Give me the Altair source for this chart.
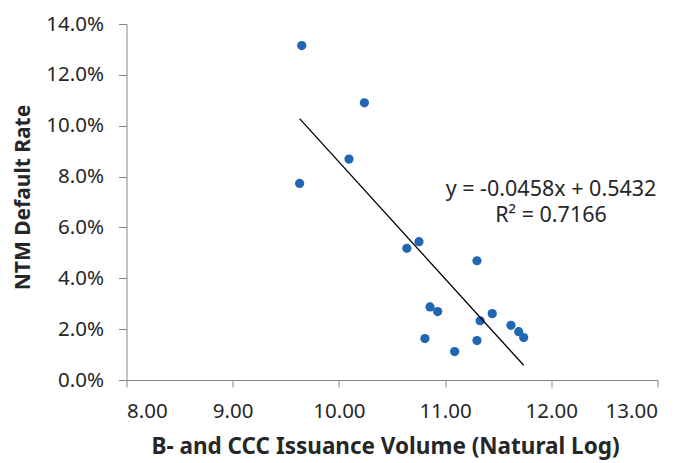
import altair as alt
import pandas as pd

issuance_ln = [9.65, 10.24, 10.095, 9.63, 10.64, 10.754, 11.30, 10.858, 10.93,
               11.444, 11.33, 11.62, 11.693, 11.74, 10.81, 11.30, 11.09]
default_rate = [0.1315, 0.1090, 0.0869, 0.0773, 0.0518, 0.0544, 0.0469, 0.02875, 0.0269,
                0.0261, 0.0233, 0.0215, 0.0190, 0.0167, 0.0163, 0.0155, 0.0112]

x_ticks = [8, 9, 10, 11, 12, 13]
y_ticks = [0, 0.02, 0.04, 0.06, 0.08, 0.10, 0.12, 0.14]
eq_lines = ["y = -0.0458x + 0.5432", "R² = 0.7166"]

df = pd.DataFrame({"x": issuance_ln, "y": default_rate})

FONT = "Noto Sans"
AXIS_GREY = "#868686"
TXT = "#262626"

xscale = alt.Scale(domain=[8, 13], nice=False, zero=False)
yscale = alt.Scale(domain=[0, 0.14], nice=False)

xenc = alt.X("x:Q", scale=xscale,
             axis=alt.Axis(values=x_ticks, format=".2f", grid=False,
                           title="B- and CCC Issuance Volume (Natural Log)",
                           domainColor=AXIS_GREY, tickColor=AXIS_GREY, tickSize=7,
                           labelFont=FONT, labelFontSize=20.5, labelColor=TXT,
                           labelPadding=14,
                           titleFont=FONT, titleFontSize=22.5, titleFontWeight="bold",
                           titleColor=TXT, titlePadding=14, titleX=258.5))
yenc = alt.Y("y:Q", scale=yscale,
             axis=alt.Axis(values=y_ticks, format=".1%", grid=False,
                           title="NTM Default Rate",
                           domainColor=AXIS_GREY, tickColor=AXIS_GREY, tickSize=8,
                           labelFont=FONT, labelFontSize=20.5, labelColor=TXT,
                           labelPadding=15,
                           titleFont=FONT, titleFontSize=21, titleFontWeight="bold",
                           titleColor=TXT, titlePadding=12, titleY=173))

base = alt.Chart(df)

points = base.mark_circle(size=85, color="#2166b3", opacity=1).encode(x=xenc, y=yenc)

trend = base.transform_regression("x", "y").mark_line(color="black", strokeWidth=1.3).encode(
    x=alt.X("x:Q", scale=xscale), y=alt.Y("y:Q", scale=yscale))

eq = alt.Chart(pd.DataFrame({"t": ["\n".join(eq_lines)]})).mark_text(
    font=FONT, fontSize=21.5, color=TXT, align="center", baseline="middle",
    lineBreak="\n", lineHeight=26).encode(
    text="t:N", x=alt.value(424.5), y=alt.value(166))

chart = alt.layer(points, trend, eq).properties(
    width=531, height=356,
    background="white",
    autosize=alt.AutoSizeParams(type="none"),
    padding={"left": 118.5, "top": 16, "right": 10, "bottom": 80},
).configure_view(strokeWidth=0, stroke="transparent")

chart.save("out.html", embed_options={"renderer": "svg", "actions": False})
